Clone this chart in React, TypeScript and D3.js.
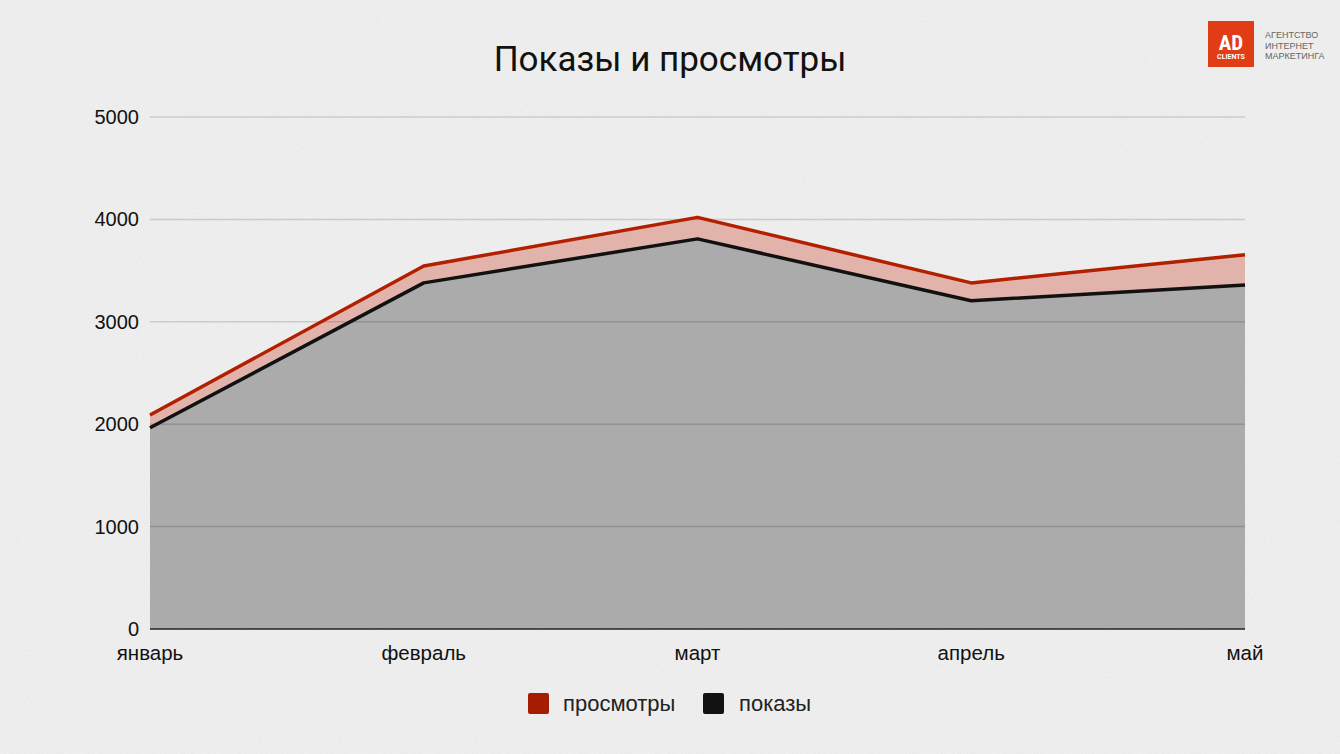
import * as d3 from "d3";

const months = ["январь", "февраль", "март", "апрель", "май"];
const views = [2090, 3545, 4020, 3380, 3655];
const shows = [1965, 3380, 3810, 3205, 3360];
const yTicks = [0, 1000, 2000, 3000, 4000, 5000];

const width = 1340;
const height = 754;
const marginLeft = 150;
const marginRight = 95;
const plotTop = 117;
const plotBottom = 629;

export default function App() {
  const x = d3
    .scalePoint<string>()
    .domain(months)
    .range([marginLeft, width - marginRight]);
  const y = d3.scaleLinear([0, 5000], [plotBottom, plotTop]);

  const area = d3
    .area<number>()
    .x((_, i) => x(months[i])!)
    .y0(y(0))
    .y1((d) => y(d));
  const line = d3
    .line<number>()
    .x((_, i) => x(months[i])!)
    .y((d) => y(d));

  const font = "'Liberation Sans', Arial, sans-serif";

  return (
    <svg
      width={width}
      height={height}
      style={{ position: "absolute", left: 0, top: 0 }}
    >
      <defs>
        <filter id="tex" x="0" y="0" width="100%" height="100%">
          <feTurbulence type="fractalNoise" baseFrequency="0.9" numOctaves="2" seed="3" />
          <feColorMatrix
            type="matrix"
            values="0 0 0 0 0  0 0 0 0 0  0 0 0 0 0  0 0 0 0.05 0"
          />
        </filter>
      </defs>
      <rect width={width} height={height} fill="#f3f3f3" />
      <rect width={width} height={height} filter="url(#tex)" />

      <text
        x={670}
        y={71}
        textAnchor="middle"
        fontFamily="Roboto, sans-serif"
        fontSize={35}
        fill="#111"
      >
        Показы и просмотры
      </text>

      {/* areas */}
      <path d={area(views)!} fill="#e2b3ab" />
      <path d={area(shows)!} fill="#ababab" />

      {/* grid */}
      {yTicks.slice(1).map((t) => (
        <line
          key={t}
          x1={marginLeft}
          x2={width - marginRight}
          y1={y(t)}
          y2={y(t)}
          stroke="rgba(0,0,0,0.14)"
          strokeWidth={1.5}
        />
      ))}
      <line
        x1={marginLeft}
        x2={width - marginRight}
        y1={y(0)}
        y2={y(0)}
        stroke="#222"
        strokeWidth={1.5}
      />

      <path d={line(views)!} fill="none" stroke="#b32000" strokeWidth={3.5} strokeLinejoin="round" />
      <path d={line(shows)!} fill="none" stroke="#111" strokeWidth={3.5} strokeLinejoin="round" />

      {/* y axis labels */}
      {yTicks.map((t) => (
        <text
          key={t}
          x={139}
          y={y(t) + 7}
          textAnchor="end"
          fontFamily={font}
          fontSize={20}
          fill="#111"
        >
          {t}
        </text>
      ))}

      {/* x axis labels */}
      {months.map((m) => (
        <text
          key={m}
          x={x(m)!}
          y={660}
          textAnchor="middle"
          fontFamily={font}
          fontSize={20.5}
          fill="#111"
        >
          {m}
        </text>
      ))}

      {/* legend */}
      <rect x={528} y={693} width={21} height={21} rx={2} fill="#a51c00" />
      <text x={563} y={711} fontFamily={font} fontSize={22} fill="#222">
        просмотры
      </text>
      <rect x={703} y={693} width={21} height={21} rx={2} fill="#121212" />
      <text x={739} y={711} fontFamily={font} fontSize={22} fill="#222">
        показы
      </text>

      {/* logo */}
      <rect x={1208} y={21} width={46} height={46} fill="#e03d16" />
      <text
        x={1231}
        y={50}
        textAnchor="middle"
        fontFamily="'Roboto Condensed', 'Liberation Sans Narrow', Roboto, sans-serif"
        fontWeight="bold"
        fontSize={21}
        fill="#fff"
      >
        AD
      </text>
      <text
        x={1231}
        y={59}
        textAnchor="middle"
        fontFamily="'Liberation Sans Narrow', Roboto, sans-serif"
        fontWeight="bold"
        fontSize={7}
        fill="#fff"
      >
        CLIENTS
      </text>
      {["АГЕНТСТВО", "ИНТЕРНЕТ", "МАРКЕТИНГА"].map((s, i) => (
        <text
          key={s}
          x={1265}
          y={38 + i * 10.5}
          fontFamily={font}
          fontSize={9}
          fill="#666"
        >
          {s}
        </text>
      ))}
    </svg>
  );
}
